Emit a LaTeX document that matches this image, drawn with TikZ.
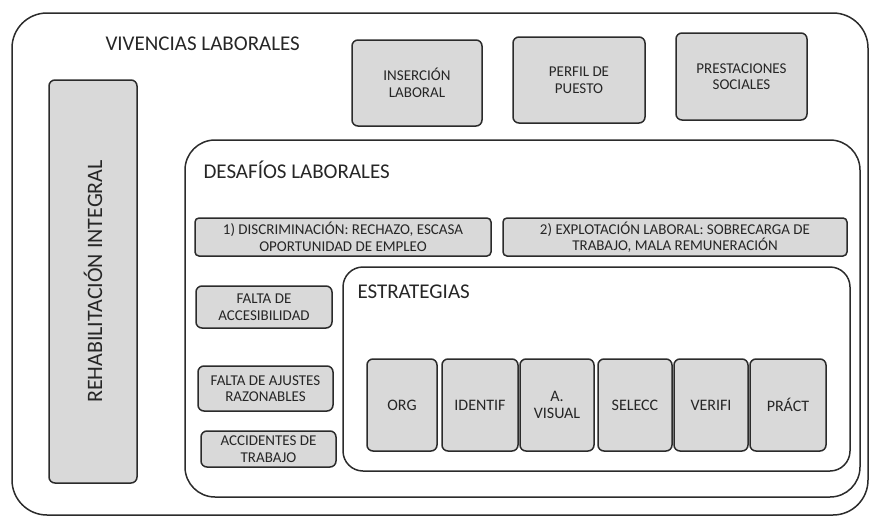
\documentclass[tikz,border=0pt]{standalone}
\usepackage{fontspec}
\setmainfont{Carlito}
\usepackage{xcolor}
\usetikzlibrary{positioning}
\definecolor{cajagris}{HTML}{D9D9D9}
\definecolor{borde}{HTML}{2B2B2B}

\begin{document}
\begin{tikzpicture}[x=1pt, y=-1pt,
    marco/.style={draw=borde, line width=1.5pt},
    caja/.style={draw=borde, line width=1.5pt, fill=cajagris, rounded corners=6pt,
        align=center, inner sep=2pt, text=black!85, font=\fontsize{15}{16.5}\selectfont},
    estr/.style={caja, minimum height=92pt, font=\fontsize{16}{17.5}\selectfont},
    titulo/.style={anchor=west, text=black!85, font=\fontsize{21}{23}\selectfont}]
    \useasboundingbox (0,0) rectangle (871,517);

    % Contenedores
    \draw[marco, rounded corners=35pt] (12,13) rectangle (868,515);
    \draw[marco, rounded corners=30pt] (185,140) rectangle (860,497);
    \draw[marco, rounded corners=20pt] (343,267) rectangle (850,471);

    % Titulos
    \node[titulo] (viv) at (102,44) {VIVENCIAS LABORALES};
    \node[titulo] (des) at (200,170) {DESAFÍOS LABORALES};
    \node[titulo] (est) at (354,292) {ESTRATEGIAS};

    % Vivencias
    \node[caja, rotate=90, minimum width=403pt, minimum height=88pt,
        font=\fontsize{22}{24}\selectfont] (rehab) at (93,281.5) {REHABILITACIÓN INTEGRAL};
    \node[caja, minimum width=130pt, minimum height=86pt] (ins) at (417,83) {INSERCIÓN\\LABORAL};
    \node[caja, minimum width=132pt, minimum height=86pt] (perf) at (579,80) {PERFIL DE\\PUESTO};
    \node[caja, minimum width=131pt, minimum height=87pt] (prest) at (741.5,76.5) {PRESTACIONES\\SOCIALES};

    % Desafios
    \node[caja, minimum width=296pt, minimum height=38pt, rounded corners=4pt] (disc) at (343,237)
        {1) DISCRIMINACIÓN: RECHAZO, ESCASA\\OPORTUNIDAD DE EMPLEO};
    \node[caja, minimum width=344pt, minimum height=38pt, rounded corners=4pt] (expl) at (675,237)
        {2) EXPLOTACIÓN LABORAL: SOBRECARGA DE\\TRABAJO, MALA REMUNERACIÓN};
    \node[caja, minimum width=136pt, minimum height=42pt] (acc) at (264,307) {FALTA DE\\ACCESIBILIDAD};
    \node[caja, minimum width=135pt, minimum height=45pt] (ajus) at (265.5,388.5) {FALTA DE AJUSTES\\RAZONABLES};
    \node[caja, minimum width=135pt, minimum height=36pt] (accid) at (268.5,449) {ACCIDENTES DE\\TRABAJO};

    % Estrategias
    \node[estr, minimum width=70pt] (org) at (402,405) {ORG};
    \node[estr, minimum width=76pt] (ident) at (480,405) {IDENTIF};
    \node[estr, minimum width=74pt] (avis) at (557,405) {A.\\VISUAL};
    \node[estr, minimum width=74pt] (sel) at (635,405) {SELECC};
    \node[estr, minimum width=74pt] (ver) at (711,405) {VERIFI};
    \node[estr, minimum width=76pt] (prac) at (788,405) {PRÁCT};

\end{tikzpicture}
\end{document}
